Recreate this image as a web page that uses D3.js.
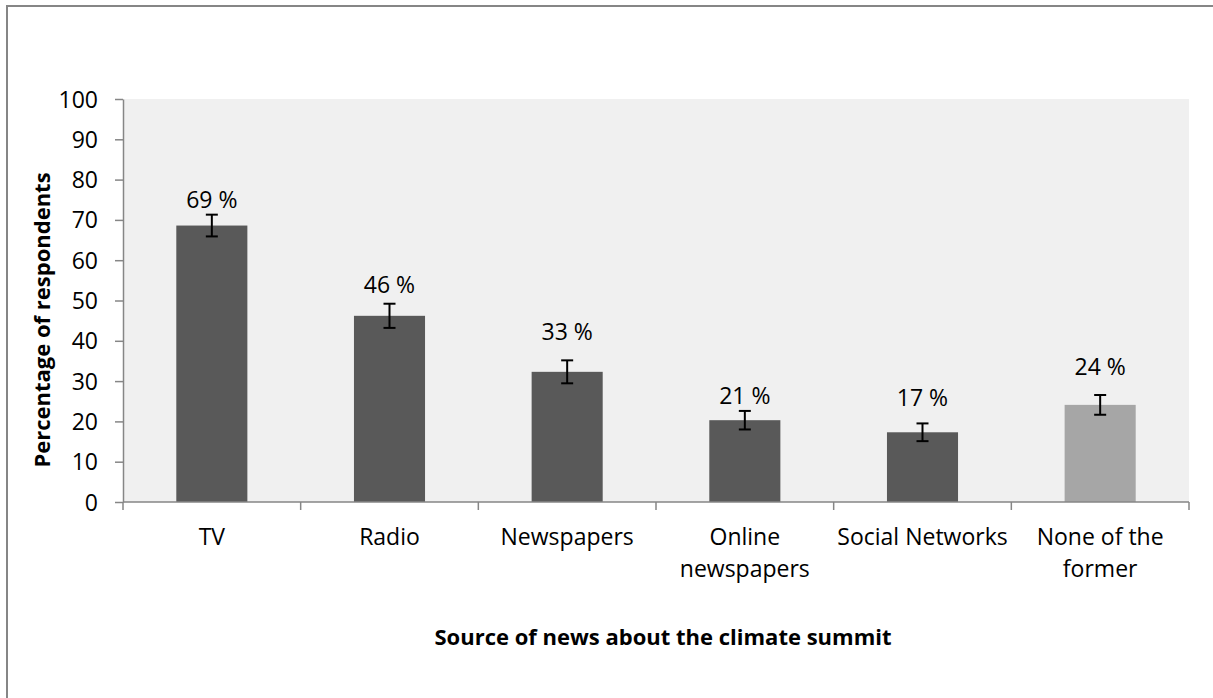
<!DOCTYPE html>
<html>
<head>
<meta charset="utf-8">
<script src="https://cdn.jsdelivr.net/npm/d3@7/dist/d3.min.js"></script>
<style>
  html, body { margin: 0; padding: 0; background: #fff; }
  svg { display: block; }
  text { font-family: "Open Sans", "Noto Sans", sans-serif; fill: #000; }
</style>
</head>
<body>
<svg id="chart" width="1213" height="698"></svg>
<script>
// ---- data ----
const categories = ["TV", "Radio", "Newspapers", "Online newspapers", "Social Networks", "None of the former"];
const categoryLines = [["TV"], ["Radio"], ["Newspapers"], ["Online", "newspapers"], ["Social Networks"], ["None of the", "former"]];
const values = [68.6, 46.2, 32.3, 20.3, 17.3, 24.1];
const errors = [2.7, 3.0, 2.85, 2.3, 2.2, 2.45];
const valueLabels = ["69 %", "46 %", "33 %", "21 %", "17 %", "24 %"];
const yTicks = [0, 10, 20, 30, 40, 50, 60, 70, 80, 90, 100];
const yTitle = "Percentage of respondents";
const xTitle = "Source of news about the climate summit";

// ---- layout ----
const W = 1213, H = 698;
const plot = { left: 123, right: 1189, top: 99, bottom: 502 };
const axisColor = "#868686";
const barColors = ["#595959", "#595959", "#595959", "#595959", "#595959", "#a6a6a6"];
const labelLift = [18, 23, 32, 16, 26, 30];

const svg = d3.select("#chart");

// outer chart border
svg.append("rect")
  .attr("x", 7).attr("y", 6)
  .attr("width", W + 20).attr("height", H + 20)
  .attr("fill", "#fff").attr("stroke", axisColor).attr("stroke-width", 2);

const x = d3.scaleBand()
  .domain(categories)
  .range([plot.left, plot.right])
  .paddingInner(0.6).paddingOuter(0.3);

const y = d3.scaleLinear().domain([0, 100]).range([plot.bottom, plot.top]);

// plot background
svg.append("rect")
  .attr("x", plot.left).attr("y", plot.top)
  .attr("width", plot.right - plot.left).attr("height", plot.bottom - plot.top)
  .attr("fill", "#f0f0f0");

// bars
svg.append("g").selectAll("rect")
  .data(categories)
  .join("rect")
  .attr("x", d => x(d))
  .attr("width", x.bandwidth())
  .attr("y", (d, i) => y(values[i]))
  .attr("height", (d, i) => y(0) - y(values[i]))
  .attr("fill", (d, i) => barColors[i]);

// error bars
const eg = svg.append("g").attr("stroke", "#000").attr("stroke-width", 2).attr("fill", "none");
categories.forEach((c, i) => {
  const cx = x(c) + x.bandwidth() / 2;
  const hi = y(values[i] + errors[i]);
  const lo = y(values[i] - errors[i]);
  eg.append("line").attr("x1", cx).attr("x2", cx).attr("y1", hi).attr("y2", lo);
  eg.append("line").attr("x1", cx - 6).attr("x2", cx + 6).attr("y1", hi).attr("y2", hi);
  eg.append("line").attr("x1", cx - 6).attr("x2", cx + 6).attr("y1", lo).attr("y2", lo);
});

// value labels
svg.append("g").selectAll("text")
  .data(categories)
  .join("text")
  .attr("x", d => x(d) + x.bandwidth() / 2)
  .attr("y", (d, i) => y(values[i]) - labelLift[i])
  .attr("text-anchor", "middle")
  .attr("font-size", 23)
  .text((d, i) => valueLabels[i]);

// y axis
const yAxis = d3.axisLeft(y).tickValues(yTicks).tickSize(8).tickSizeOuter(0).tickPadding(17);
const ga = svg.append("g").attr("transform", `translate(${plot.left},0)`).call(yAxis);
ga.select(".domain").attr("stroke", axisColor).attr("stroke-width", 1.5);
ga.selectAll(".tick line").attr("stroke", axisColor).attr("stroke-width", 1.5);
ga.selectAll(".tick text").attr("font-size", 23).attr("font-family", "Open Sans").attr("fill", "#000").attr("dy", "0.35em");

// x axis
const xg = svg.append("g");
xg.append("line")
  .attr("x1", plot.left).attr("x2", plot.right)
  .attr("y1", y(0)).attr("y2", y(0))
  .attr("stroke", axisColor).attr("stroke-width", 1.5);
const x0 = x(categories[0]) - x.step() * x.paddingOuter();
xg.selectAll("line.tick")
  .data(d3.range(categories.length + 1))
  .join("line")
  .attr("class", "tick")
  .attr("x1", i => x0 + i * x.step())
  .attr("x2", i => x0 + i * x.step())
  .attr("y1", y(0)).attr("y2", y(0) + 8)
  .attr("stroke", axisColor).attr("stroke-width", 1.5);

const cl = xg.selectAll("text.cat")
  .data(categories)
  .join("text")
  .attr("class", "cat")
  .attr("text-anchor", "middle")
  .attr("font-size", 23);
cl.each(function (d, i) {
  const t = d3.select(this);
  categoryLines[i].forEach((line, k) => {
    t.append("tspan")
      .attr("x", x(d) + x.bandwidth() / 2)
      .attr("y", 545 + k * 32)
      .text(line);
  });
});

// axis titles
svg.append("text")
  .attr("transform", `translate(50,320) rotate(-90)`)
  .attr("text-anchor", "middle")
  .attr("font-size", 22)
  .attr("font-weight", "bold")
  .text(yTitle);

svg.append("text")
  .attr("x", 663).attr("y", 645)
  .attr("text-anchor", "middle")
  .attr("font-size", 22)
  .attr("font-weight", "bold")
  .text(xTitle);
</script>
</body>
</html>
